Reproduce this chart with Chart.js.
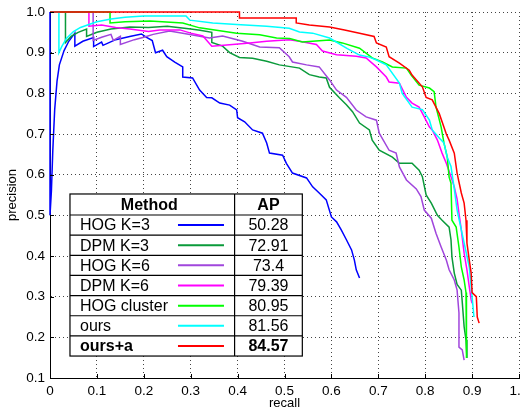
<!DOCTYPE html>
<html>
<head>
<meta charset="utf-8">
<script src="https://cdn.jsdelivr.net/npm/chart.js@4.4.0/dist/chart.umd.min.js"></script>
<style>
  body { margin: 0; background: #fff; }
  canvas { display: block; }
</style>
</head>
<body>
<canvas id="chart1" width="520" height="410"></canvas>
<script>
// recall / precision samples, one pair of arrays per method
const hogK3R = [0, 0, 0.003, 0.006, 0.01, 0.015, 0.02, 0.03, 0.04, 0.053, 0.053, 0.07, 0.093, 0.093, 0.11, 0.113, 0.14, 0.17, 0.195, 0.205, 0.218, 0.225, 0.24, 0.249, 0.266, 0.283, 0.283, 0.304, 0.319, 0.334, 0.345, 0.362, 0.383, 0.398, 0.4, 0.415, 0.432, 0.453, 0.462, 0.468, 0.496, 0.504, 0.517, 0.547, 0.56, 0.574, 0.589, 0.6, 0.611, 0.621, 0.632, 0.643, 0.649, 0.653, 0.66];
const hogK3P = [1, 0.5, 0.56, 0.66, 0.76, 0.83, 0.87, 0.905, 0.928, 0.948, 0.916, 0.928, 0.937, 0.915, 0.926, 0.918, 0.932, 0.94, 0.946, 0.938, 0.93, 0.9, 0.906, 0.89, 0.877, 0.865, 0.84, 0.838, 0.808, 0.79, 0.789, 0.776, 0.771, 0.759, 0.74, 0.73, 0.71, 0.702, 0.678, 0.653, 0.648, 0.628, 0.604, 0.592, 0.57, 0.555, 0.538, 0.496, 0.484, 0.464, 0.44, 0.415, 0.39, 0.366, 0.346];

const dpmK3R = [0, 0.033, 0.033, 0.045, 0.06, 0.078, 0.078, 0.1, 0.13, 0.17, 0.21, 0.25, 0.3, 0.32, 0.345, 0.345, 0.368, 0.383, 0.404, 0.432, 0.462, 0.489, 0.532, 0.553, 0.574, 0.589, 0.596, 0.617, 0.632, 0.645, 0.66, 0.681, 0.687, 0.702, 0.73, 0.745, 0.772, 0.787, 0.794, 0.802, 0.813, 0.826, 0.836, 0.851, 0.855, 0.857, 0.862, 0.868, 0.877, 0.879, 0.883, 0.887, 0.889];
const dpmK3P = [1, 1, 0.925, 0.94, 0.95, 0.958, 0.94, 0.95, 0.958, 0.963, 0.962, 0.965, 0.958, 0.955, 0.95, 0.925, 0.916, 0.9, 0.888, 0.886, 0.879, 0.87, 0.862, 0.846, 0.84, 0.838, 0.815, 0.789, 0.772, 0.755, 0.727, 0.71, 0.685, 0.66, 0.643, 0.628, 0.628, 0.611, 0.595, 0.55, 0.53, 0.5, 0.488, 0.471, 0.44, 0.398, 0.358, 0.33, 0.316, 0.287, 0.226, 0.194, 0.149];

const hogK6R = [0, 0.092, 0.092, 0.11, 0.13, 0.135, 0.15, 0.15, 0.18, 0.2, 0.22, 0.255, 0.283, 0.34, 0.368, 0.411, 0.447, 0.489, 0.51, 0.517, 0.547, 0.574, 0.596, 0.611, 0.632, 0.653, 0.674, 0.696, 0.702, 0.723, 0.738, 0.745, 0.76, 0.781, 0.791, 0.798, 0.813, 0.823, 0.834, 0.845, 0.851, 0.862, 0.868, 0.872, 0.872, 0.879, 0.883];
const hogK6P = [1, 1, 0.93, 0.938, 0.945, 0.93, 0.94, 0.92, 0.932, 0.938, 0.945, 0.953, 0.948, 0.936, 0.941, 0.928, 0.914, 0.912, 0.89, 0.877, 0.87, 0.865, 0.833, 0.808, 0.79, 0.759, 0.742, 0.734, 0.702, 0.66, 0.653, 0.619, 0.587, 0.565, 0.546, 0.513, 0.493, 0.456, 0.422, 0.39, 0.366, 0.341, 0.316, 0.26, 0.176, 0.169, 0.144];

const dpmK6R = [0, 0.083, 0.083, 0.11, 0.14, 0.17, 0.21, 0.234, 0.277, 0.3, 0.326, 0.345, 0.389, 0.426, 0.462, 0.51, 0.532, 0.568, 0.581, 0.611, 0.653, 0.674, 0.696, 0.717, 0.723, 0.745, 0.76, 0.772, 0.787, 0.798, 0.809, 0.815, 0.826, 0.836, 0.845, 0.855, 0.862, 0.868, 0.872, 0.877, 0.883, 0.889, 0.894, 0.898, 0.9];
const dpmK6P = [1, 1, 0.965, 0.968, 0.962, 0.958, 0.952, 0.956, 0.956, 0.948, 0.941, 0.916, 0.92, 0.924, 0.928, 0.932, 0.928, 0.92, 0.904, 0.895, 0.891, 0.887, 0.865, 0.84, 0.828, 0.825, 0.79, 0.776, 0.766, 0.742, 0.717, 0.71, 0.685, 0.653, 0.628, 0.595, 0.57, 0.54, 0.505, 0.464, 0.407, 0.366, 0.324, 0.292, 0.284];

const clusterR = [0, 0.128, 0.128, 0.16, 0.213, 0.283, 0.319, 0.398, 0.447, 0.483, 0.511, 0.538, 0.596, 0.623, 0.66, 0.687, 0.709, 0.73, 0.76, 0.77, 0.787, 0.809, 0.819, 0.823, 0.834, 0.84, 0.847, 0.851, 0.855, 0.857, 0.866, 0.872, 0.877, 0.883, 0.887, 0.887, 0.889];
const clusterP = [1, 1, 0.973, 0.976, 0.978, 0.973, 0.961, 0.948, 0.944, 0.936, 0.935, 0.926, 0.931, 0.924, 0.911, 0.887, 0.877, 0.865, 0.862, 0.845, 0.82, 0.813, 0.804, 0.767, 0.717, 0.678, 0.643, 0.594, 0.579, 0.488, 0.471, 0.422, 0.373, 0.341, 0.31, 0.194, 0.149];

const oursR = [0, 0.019, 0.019, 0.025, 0.035, 0.05, 0.065, 0.08, 0.1, 0.13, 0.16, 0.2, 0.29, 0.298, 0.347, 0.398, 0.462, 0.51, 0.532, 0.56, 0.596, 0.634, 0.66, 0.681, 0.696, 0.717, 0.745, 0.751, 0.772, 0.794, 0.809, 0.815, 0.83, 0.84, 0.847, 0.855, 0.862, 0.868, 0.883, 0.894, 0.898, 0.904];
const oursP = [1, 1, 0.9, 0.915, 0.935, 0.952, 0.962, 0.968, 0.976, 0.983, 0.987, 0.99, 0.99, 0.98, 0.973, 0.969, 0.965, 0.96, 0.951, 0.948, 0.936, 0.91, 0.894, 0.889, 0.882, 0.87, 0.825, 0.8, 0.766, 0.76, 0.734, 0.71, 0.69, 0.678, 0.643, 0.62, 0.565, 0.513, 0.432, 0.373, 0.324, 0.25];

const oursAR = [0, 0.404, 0.404, 0.525, 0.525, 0.553, 0.596, 0.628, 0.66, 0.691, 0.696, 0.717, 0.723, 0.745, 0.766, 0.772, 0.794, 0.802, 0.815, 0.83, 0.845, 0.851, 0.862, 0.868, 0.872, 0.877, 0.883, 0.887, 0.889, 0.894, 0.898, 0.9, 0.909, 0.911, 0.915];
const oursAP = [1, 1, 0.985, 0.985, 0.973, 0.968, 0.963, 0.956, 0.948, 0.94, 0.924, 0.914, 0.89, 0.874, 0.857, 0.845, 0.816, 0.79, 0.784, 0.75, 0.7, 0.685, 0.653, 0.604, 0.582, 0.555, 0.53, 0.488, 0.432, 0.39, 0.358, 0.31, 0.3, 0.25, 0.235];

const methods = ['HOG K=3', 'DPM K=3', 'HOG K=6', 'DPM K=6', 'HOG cluster', 'ours', 'ours+a'];
const apValues = ['50.28', '72.91', '73.4', '79.39', '80.95', '81.56', '84.57'];
const colors = ['#0000ff', '#0a9a3a', '#a046dc', '#ff00ff', '#00ff00', '#00ffff', '#ff0000'];
const recalls = [hogK3R, dpmK3R, hogK6R, dpmK6R, clusterR, oursR, oursAR];
const precisions = [hogK3P, dpmK3P, hogK6P, dpmK6P, clusterP, oursP, oursAP];

const FONT = '"Liberation Sans", Arial, Helvetica, sans-serif';

// AP table drawn inside the plot area + inward tick marks
const apTable = {
    id: 'apTable',
    afterDatasetsDraw(chart) {
        const {ctx, scales: {x, y}} = chart;
        const left = x.getPixelForValue(0.0426), right = x.getPixelForValue(0.538);
        const top = y.getPixelForValue(0.5525), bottom = y.getPixelForValue(0.154);
        const colX = x.getPixelForValue(0.3936);
        const headH = 21;
        const rowH = (bottom - top - headH) / methods.length;

        ctx.save();
        ctx.fillStyle = '#fff';
        ctx.fillRect(left, top, right - left, bottom - top);

        ctx.strokeStyle = '#000';
        ctx.lineWidth = 1.2;
        ctx.strokeRect(left, top, right - left, bottom - top);
        ctx.beginPath();
        ctx.moveTo(colX, top); ctx.lineTo(colX, bottom);
        for (let i = 0; i < methods.length; i++) {
            const yy = top + headH + i * rowH;
            ctx.moveTo(left, yy); ctx.lineTo(right, yy);
        }
        ctx.stroke();

        ctx.fillStyle = '#000';
        ctx.textBaseline = 'middle';
        ctx.textAlign = 'center';
        ctx.font = 'bold 16px ' + FONT;
        ctx.fillText('Method', (left + colX) / 2 - 3, top + headH / 2 + 1);
        ctx.fillText('AP', (colX + right) / 2, top + headH / 2 + 1);

        methods.forEach((m, i) => {
            const cy = top + headH + (i + 0.5) * rowH + 1;
            const bold = i === methods.length - 1;
            ctx.font = (bold ? 'bold ' : '') + '16px ' + FONT;
            ctx.textAlign = 'left';
            ctx.fillStyle = '#000';
            ctx.fillText(m, left + 10, cy);
            ctx.textAlign = 'center';
            ctx.fillText(apValues[i], (colX + right) / 2, cy);
            ctx.strokeStyle = colors[i];
            ctx.lineWidth = 2;
            ctx.beginPath();
            ctx.moveTo(left + 108, cy - 1);
            ctx.lineTo(left + 154, cy - 1);
            ctx.stroke();
        });

        // small inward ticks
        ctx.strokeStyle = '#000';
        ctx.lineWidth = 1;
        ctx.beginPath();
        x.ticks.forEach(t => {
            const px = Math.round(x.getPixelForValue(t.value)) + 0.5;
            ctx.moveTo(px, y.bottom); ctx.lineTo(px, y.bottom - 4);
        });
        y.ticks.forEach(t => {
            const py = Math.round(y.getPixelForValue(t.value)) + 0.5;
            ctx.moveTo(x.left, py); ctx.lineTo(x.left + 4, py);
        });
        ctx.stroke();
        ctx.restore();
    }
};

const ctx1 = document.getElementById('chart1').getContext('2d');
const chart1 = new Chart(ctx1, {
    type: 'line',
    data: {
        datasets: methods.map((m, i) => ({
            label: m,
            data: recalls[i].map((r, j) => ({x: r, y: precisions[i][j]})),
            borderColor: colors[i],
            backgroundColor: colors[i],
            borderWidth: 1.5,
            pointRadius: 0,
            tension: 0,
            fill: false,
            order: methods.length - i,
            clip: {left: 3, top: 3, right: 3, bottom: 0}
        }))
    },
    options: {
        responsive: false,
        animation: false,
        layout: {padding: {top: 12, right: 1, left: 0, bottom: 0}},
        plugins: {
            legend: {display: false},
            tooltip: {enabled: false}
        },
        scales: {
            x: {
                type: 'linear',
                min: 0,
                max: 1,
                ticks: {stepSize: 0.1, color: '#000', padding: 5, maxRotation: 0, font: {family: FONT, size: 13.5}},
                grid: {color: '#444', drawTicks: false},
                border: {color: '#000', width: 1, dash: [1, 3]},
                title: {display: true, text: 'recall', color: '#000', font: {family: FONT, size: 13, lineHeight: 1}, padding: {top: 0, bottom: 0}},
                afterFit: s => { s.height = 32; s.paddingLeft = 0; s.paddingRight = 0; }
            },
            y: {
                min: 0.1,
                max: 1,
                ticks: {stepSize: 0.1, color: '#000', padding: 5, font: {family: FONT, size: 13.5}},
                grid: {color: '#444', drawTicks: false},
                border: {color: '#000', width: 1, dash: [1, 3]},
                title: {display: true, text: 'precision', color: '#000', font: {family: FONT, size: 13, lineHeight: 1}, padding: {top: 6, bottom: 0}},
                afterFit: s => { s.width = 50; s.paddingTop = 0; s.paddingBottom = 0; }
            }
        }
    },
    plugins: [apTable]
});
</script>
</body>
</html>
